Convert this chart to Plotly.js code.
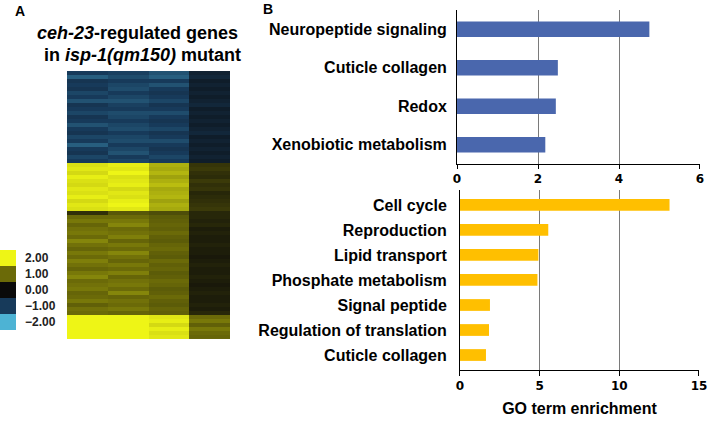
<!DOCTYPE html>
<html>
<head>
<meta charset="utf-8">
<script src="https://cdn.plot.ly/plotly-3.0.1.min.js"></script>
<style>
  body { margin: 0; background: #fff; }
  #plotArea { width: 709px; height: 422px; }
</style>
</head>
<body>
<div id="plotArea"></div>
<script>
// panel A: ceh-23 regulated genes, 4 samples, rows top to bottom
var sample1 = [
  -1.0,-1.3,-0.9,-1.0,-0.9,-1.1,-1.0,-1.2,-0.9,-1.0,-1.1,-0.9,-1.0,-1.2,-1.0,-0.9,-1.1,-1.0,-1.3,-1.0,-0.9,-1.1,-1.0,
  1.85,1.9,1.8,1.95,1.85,1.8,1.9,1.85,1.95,1.8,1.9,1.85,
  0.4,1.0,1.1,0.95,1.05,1.1,1.0,1.2,1.05,0.95,1.1,1.0,1.15,1.05,0.95,1.1,1.2,1.0,1.05,1.1,0.95,1.0,1.1,0.9,1.05,1.0,
  2,2,2,2,2,2
];
var sample2 = [
  -1.05,-1.15,-1.0,-1.1,-1.15,-1.0,-1.1,-1.2,-1.05,-1.0,-1.15,-1.1,-1.0,-1.1,-1.15,-1.0,-1.1,-1.15,-1.0,-1.1,-1.2,-1.0,-1.1,
  1.95,1.9,2.0,1.85,1.9,1.95,1.8,1.9,1.85,1.95,2.0,1.9,
  0.8,1.0,1.1,1.2,1.0,1.05,1.15,0.95,1.1,1.0,1.2,1.05,0.95,1.1,1.0,1.15,0.95,1.05,1.1,1.0,1.2,0.95,1.05,1.0,1.1,0.95,
  2,2,2,2,2,2
];
var sample3 = [
  -1.2,-1.3,-1.0,-1.2,-1.0,-0.9,-1.0,-1.1,-0.9,-1.0,-1.15,-1.0,-0.9,-1.0,-1.1,-0.9,-1.0,-1.15,-1.0,-0.9,-1.0,-1.1,-1.0,
  1.5,1.45,1.55,1.4,1.5,1.6,1.45,1.5,1.55,1.4,1.5,1.45,
  0.7,0.85,0.9,0.95,0.9,1.0,0.9,0.85,0.95,1.0,0.9,0.85,1.0,0.9,0.95,0.85,0.9,1.0,0.95,0.85,0.9,1.0,0.9,0.85,0.95,0.9,
  1.9,1.95,1.8,1.95,1.85,1.9
];
var sample4 = [
  -0.5,-0.6,-0.4,-0.5,-0.4,-0.5,-0.4,-0.5,-0.6,-0.4,-0.5,-0.4,-0.5,-0.4,-0.5,-0.6,-0.4,-0.5,-0.4,-0.5,-0.4,-0.5,-0.4,
  0.45,0.5,0.4,0.35,0.5,0.4,0.45,0.3,0.35,0.4,0.45,0.5,
  0.3,0.3,0.25,0.3,0.2,0.25,0.2,0.2,0.25,0.2,0.2,0.15,0.2,0.25,0.2,0.2,0.25,0.2,0.15,0.2,0.25,0.2,0.2,0.25,0.2,0.3,
  1.0,1.1,0.9,1.1,1.0,0.95
];

var keyValues = [2, 1, 0, -1, -2];
var keyLabels = ["2.00", "1.00", "0.00", "\u22121.00", "\u22122.00"];

// panel B: GO term enrichment
var upTerms = ["Neuropeptide signaling", "Cuticle collagen", "Redox", "Xenobiotic metabolism"];
var upEnrich = [4.75, 2.49, 2.44, 2.18];
var downTerms = ["Cell cycle", "Reproduction", "Lipid transport", "Phosphate metabolism",
                 "Signal peptide", "Regulation of translation", "Cuticle collagen"];
var downEnrich = [13.15, 5.54, 4.92, 4.86, 1.88, 1.82, 1.63];

var heatColors = [[0, "#4db3d4"], [0.25, "#173a5a"], [0.5, "#0a0a0a"], [0.75, "#6b6a08"], [1, "#eef516"]];
var FONT = "Arial, 'Liberation Sans', sans-serif";
var TICKFONT = "'DejaVu Sans', Verdana, sans-serif";

var z = [];
for (var i = 0; i < sample1.length; i++) {
    z.push([sample1[i], sample2[i], sample3[i], sample4[i]]);
}

var heat = {
    z: z,
    type: "heatmap",
    colorscale: heatColors,
    zmin: -2, zmax: 2,
    showscale: false,
    xaxis: "x3", yaxis: "y3",
    hoverinfo: "skip"
};

var key = {
    z: keyValues.map(function (v) { return [v]; }),
    y: keyValues.map(function (v, k) { return k; }),
    type: "heatmap",
    colorscale: heatColors,
    zmin: -2, zmax: 2,
    showscale: false,
    xaxis: "x4", yaxis: "y4",
    hoverinfo: "skip"
};

var upBars = {
    y: upTerms, x: upEnrich,
    type: "bar", orientation: "h",
    marker: {color: "#4a67ad"},
    width: 0.4,
    xaxis: "x", yaxis: "y",
    hoverinfo: "skip"
};

var downBars = {
    y: downTerms, x: downEnrich,
    type: "bar", orientation: "h",
    marker: {color: "#ffbf00"},
    width: 0.47,
    xaxis: "x2", yaxis: "y2",
    hoverinfo: "skip"
};

var tickFont = {family: TICKFONT, size: 12, color: "#000", weight: "bold"};
var catFont = {family: FONT, size: 16, color: "#000", weight: "bold"};
var hidden = {showgrid: false, zeroline: false, showticklabels: false, ticks: "", showline: false};

var layout = {
    width: 709, height: 422,
    margin: {l: 0, r: 0, t: 0, b: 0},
    paper_bgcolor: "#fff", plot_bgcolor: "#fff",
    showlegend: false,
    font: {family: FONT},
    xaxis: {
        domain: [0.6446, 0.9873], anchor: "y",
        range: [0, 6], dtick: 2,
        showgrid: true, gridcolor: "#7a7a7a", gridwidth: 1,
        zeroline: false, showline: true, linecolor: "#000", linewidth: 1,
        ticks: "outside", ticklen: 4, tickcolor: "#000",
        tickfont: tickFont
    },
    yaxis: {
        domain: [0.6114, 0.9763], anchor: "x",
        range: [3.5, -0.5], type: "category",
        showline: true, linecolor: "#000", linewidth: 1,
        showgrid: false, ticks: "", ticklabelstandoff: 6,
        tickfont: catFont
    },
    xaxis2: {
        domain: [0.6488, 0.9859], anchor: "y2",
        range: [0, 15], dtick: 5,
        showgrid: true, gridcolor: "#7a7a7a", gridwidth: 1,
        zeroline: false, showline: true, linecolor: "#000", linewidth: 1,
        ticks: "outside", ticklen: 5, tickcolor: "#000",
        tickfont: tickFont,
        title: {text: "GO term enrichment", font: {family: FONT, size: 16, color: "#000", weight: "bold"}, standoff: 10}
    },
    yaxis2: {
        domain: [0.1232, 0.5498], anchor: "x2",
        range: [6.6, -0.6], type: "category",
        showline: true, linecolor: "#000", linewidth: 1,
        showgrid: false, ticks: "", ticklabelstandoff: 9,
        tickfont: catFont
    },
    xaxis3: Object.assign({domain: [0.0945, 0.3244], anchor: "y3"}, hidden),
    yaxis3: Object.assign({domain: [0.1967, 0.8318], anchor: "x3", autorange: "reversed"}, hidden),
    xaxis4: Object.assign({domain: [0, 0.0226], anchor: "y4"}, hidden),
    yaxis4: {
        domain: [0.218, 0.4076], anchor: "x4", side: "right",
        autorange: "reversed",
        showgrid: false, zeroline: false, showline: false, ticks: "",
        tickvals: keyValues.map(function (v, k) { return k; }),
        ticktext: keyLabels,
        ticklabelstandoff: 8,
        tickfont: {family: FONT, size: 12, color: "#222", weight: "bold"}
    },
    annotations: [
        {text: "<b>A</b>", x: 20 / 709, y: 1 - 11 / 422, xref: "paper", yref: "paper",
         xanchor: "center", yanchor: "middle",
         showarrow: false, font: {family: FONT, size: 14, color: "#000"}},
        {text: "<b>B</b>", x: 268 / 709, y: 1 - 9 / 422, xref: "paper", yref: "paper",
         xanchor: "center", yanchor: "middle",
         showarrow: false, font: {family: FONT, size: 14, color: "#000"}},
        {text: "<b><i>ceh-23</i>-regulated genes</b>", x: 137 / 709, y: 1 - 33 / 422, xref: "paper", yref: "paper",
         xanchor: "center", yanchor: "middle",
         showarrow: false, font: {family: FONT, size: 18, color: "#000"}},
        {text: "<b>in <i>isp-1(qm150)</i> mutant</b>", x: 142 / 709, y: 1 - 55 / 422, xref: "paper", yref: "paper",
         xanchor: "center", yanchor: "middle",
         showarrow: false, font: {family: FONT, size: 18, color: "#000"}}
    ]
};

Plotly.newPlot("plotArea", [heat, key, upBars, downBars], layout, {staticPlot: true});
</script>
</body>
</html>
